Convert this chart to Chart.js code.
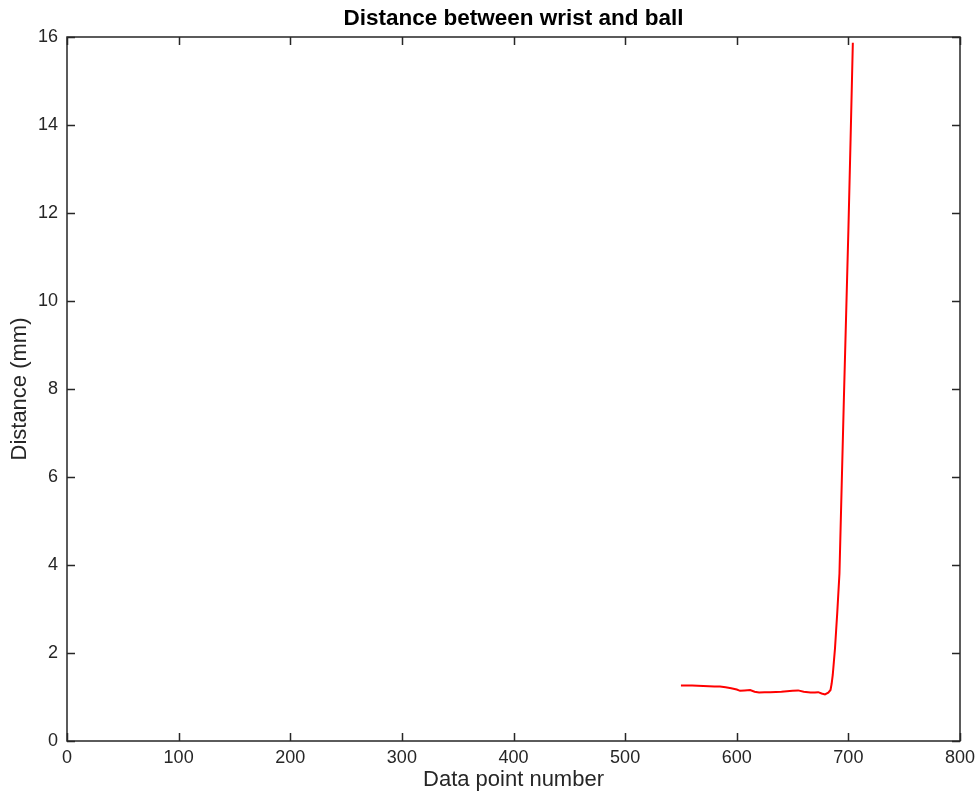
<!DOCTYPE html>
<html>
<head>
<meta charset="utf-8">
<script src="https://cdn.jsdelivr.net/npm/chart.js@4.4.1/dist/chart.umd.min.js"></script>
<style>
html,body{margin:0;padding:0;background:#fff;}
#wrap{width:979px;height:794px;position:relative;}
</style>
</head>
<body>
<div id="wrap"><canvas id="c" width="979" height="794"></canvas></div>
<script>
const titleText = "Distance between wrist and ball";
const xLabel = "Data point number";
const yLabel = "Distance (mm)";
const xTicks = [0, 100, 200, 300, 400, 500, 600, 700, 800];
const yTicks = [0, 2, 4, 6, 8, 10, 12, 14, 16];
const pointNumbers = [550, 560, 570, 580, 585, 590, 595, 600, 603, 607, 612, 616, 620, 625, 630, 640, 650, 655, 660, 666, 670, 673, 676, 679, 682, 684, 685, 686, 687, 688, 689, 690, 692, 694, 696, 698, 700, 702, 704];
const distances =    [1.26, 1.26, 1.25, 1.24, 1.24, 1.22, 1.20, 1.17, 1.14, 1.15, 1.16, 1.12, 1.10, 1.11, 1.11, 1.12, 1.14, 1.15, 1.12, 1.10, 1.10, 1.11, 1.08, 1.06, 1.10, 1.16, 1.30, 1.50, 1.80, 2.10, 2.50, 2.90, 3.80, 5.80, 7.80, 9.70, 11.60, 13.70, 15.87];

const INK = '#262626';
const FONT = "'Liberation Sans', Arial, Helvetica, sans-serif";

const boxPlugin = {
  id: 'box',
  afterDraw(chart) {
    const {ctx, chartArea: a, scales} = chart;
    ctx.save();
    ctx.strokeStyle = INK;
    ctx.lineWidth = 1.5;
    ctx.strokeRect(a.left, a.top, a.right - a.left, a.bottom - a.top);
    const L = 8;
    ctx.beginPath();
    xTicks.forEach(v => {
      const px = Math.round(scales.x.getPixelForValue(v)) + 0.5;
      ctx.moveTo(px, a.bottom); ctx.lineTo(px, a.bottom - L);
      ctx.moveTo(px, a.top); ctx.lineTo(px, a.top + L);
    });
    yTicks.forEach(v => {
      const py = Math.round(scales.y.getPixelForValue(v)) + 0.5;
      ctx.moveTo(a.left, py); ctx.lineTo(a.left + L, py);
      ctx.moveTo(a.right, py); ctx.lineTo(a.right - L, py);
    });
    ctx.stroke();
    ctx.restore();
  }
};

new Chart(document.getElementById('c'), {
  type: 'line',
  data: {
    datasets: [{
      data: pointNumbers.map((x, i) => ({x: x, y: distances[i]})),
      borderColor: '#ff0000',
      borderWidth: 2,
      pointRadius: 0,
      tension: 0,
      fill: false
    }]
  },
  options: {
    responsive: false,
    animation: false,
    devicePixelRatio: 1,
    layout: {padding: {left: 0, right: 19, top: 0, bottom: 0}},
    plugins: {
      legend: {display: false},
      tooltip: {enabled: false},
      title: {
        display: true,
        fullSize: false,
        text: titleText,
        color: '#000',
        font: {family: FONT, size: 22.5, weight: 'bold', lineHeight: 1.2},
        padding: {top: 5, bottom: 5}
      }
    },
    scales: {
      x: {
        type: 'linear',
        min: 0, max: 800,
        afterBuildTicks: s => { s.ticks = xTicks.map(v => ({value: v})); },
        afterFit: s => { s.height = 53; s.paddingLeft = 0; s.paddingRight = 0; },
        grid: {display: false, drawTicks: false},
        border: {display: false},
        ticks: {color: INK, padding: 6, maxRotation: 0, font: {family: FONT, size: 18}},
        title: {display: true, text: xLabel, color: INK, font: {family: FONT, size: 22, lineHeight: 1.2}, padding: {top: 0, bottom: 0.8}}
      },
      y: {
        type: 'linear',
        min: 0, max: 16,
        afterBuildTicks: s => { s.ticks = yTicks.map(v => ({value: v})); },
        afterFit: s => { s.width = 67; s.paddingTop = 0; s.paddingBottom = 0; },
        grid: {display: false, drawTicks: false},
        border: {display: false},
        ticks: {color: INK, padding: 9, font: {family: FONT, size: 18}},
        title: {display: true, text: yLabel, color: INK, font: {family: FONT, size: 22, lineHeight: 1.2}, padding: {top: 6.8, bottom: 0}}
      }
    }
  },
  plugins: [boxPlugin]
});
</script>
</body>
</html>
